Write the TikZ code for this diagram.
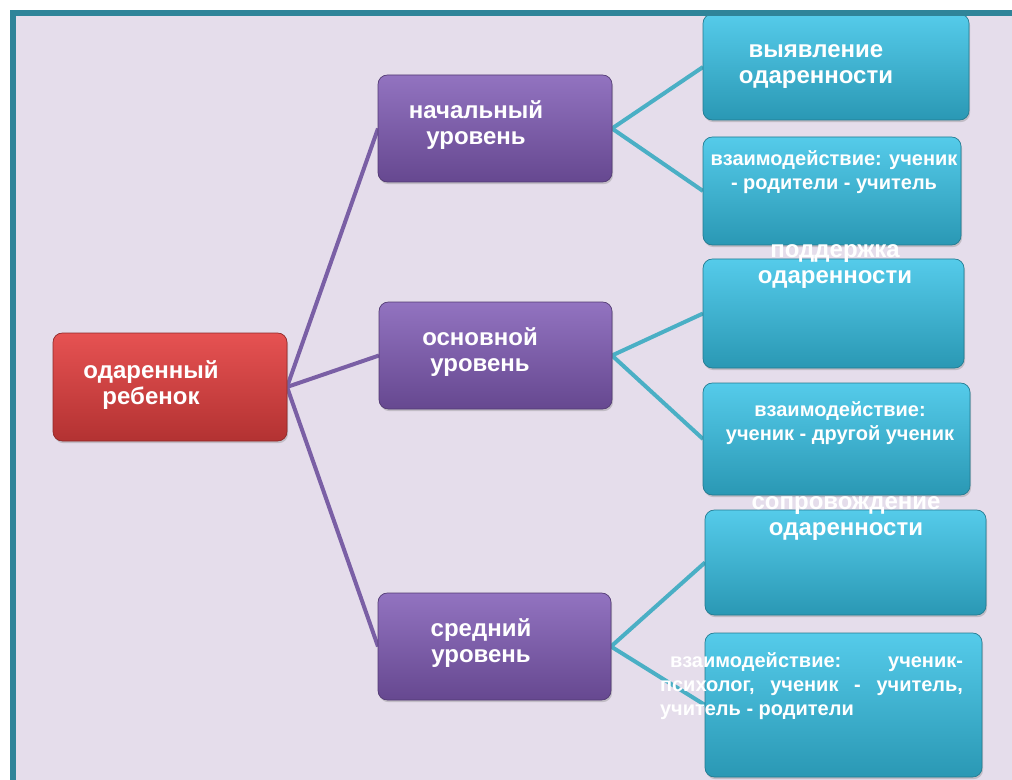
\documentclass[tikz,border=0pt]{standalone}
\usepackage{fontspec}
\setmainfont{Liberation Sans}
\usetikzlibrary{shadows}
\definecolor{bgc}{HTML}{E5DDEB}
\definecolor{framec}{HTML}{2F8499}
\definecolor{redtop}{HTML}{E65252}
\definecolor{redmid}{HTML}{D23E3E}
\definecolor{redbot}{HTML}{B33232}
\definecolor{purtop}{HTML}{9273C0}
\definecolor{purmid}{HTML}{7B5AA6}
\definecolor{purbot}{HTML}{664890}
\definecolor{teatop}{HTML}{55CBEA}
\definecolor{teamid}{HTML}{34B3D6}
\definecolor{teabot}{HTML}{2A98B4}
\definecolor{purline}{HTML}{7A5FA5}
\definecolor{tealine}{HTML}{4AAFC5}
\pgfdeclarelayer{bg}
\pgfdeclarelayer{lines}
\pgfsetlayers{bg,lines,main}
\begin{document}
\begin{tikzpicture}[x=0.75pt,y=-0.75pt,
  box/.style={rectangle, rounded corners=7pt, inner sep=0pt, outer sep=0pt,
    drop shadow={opacity=0.35, shadow xshift=0.8pt, shadow yshift=-1.6pt}},
  redbox/.style={box, draw=redbot!80!black, line width=0.5pt, top color=redtop, middle color=redmid, bottom color=redbot},
  purbox/.style={box, draw=purbot!80!black, line width=0.5pt, top color=purtop, middle color=purmid, bottom color=purbot},
  teabox/.style={box, draw=teabot!80!black, line width=0.5pt, top color=teatop, middle color=teamid, bottom color=teabot},
  txt/.style={text=white, font=\bfseries\fontsize{18}{19.5}\selectfont, align=center, inner sep=0pt},
  stxt/.style={txt, font=\bfseries\fontsize{15}{18}\selectfont},
  pline/.style={draw=purline, line width=3pt},
  tline/.style={draw=tealine, line width=3pt}]
\useasboundingbox (0,0) rectangle (1012,780);
\begin{pgfonlayer}{bg}
  \fill[white] (0,0) rectangle (1012,780);
  \fill[bgc] (16,16) rectangle (1012,780);
\end{pgfonlayer}

% boxes
\node[redbox, minimum width=175.5pt, minimum height=81pt] (root) at (170,387) {};
\node[purbox, minimum width=175.5pt, minimum height=80.25pt] (p1) at (495,128.5) {};
\node[purbox, minimum width=174.75pt, minimum height=80.25pt] (p2) at (495.5,355.5) {};
\node[purbox, minimum width=174.75pt, minimum height=80.25pt] (p3) at (494.5,646.5) {};
\node[teabox, minimum width=199.5pt, minimum height=79.5pt] (t1) at (836,67) {};
\node[teabox, minimum width=193.5pt, minimum height=81pt] (t2) at (832,191) {};
\node[teabox, minimum width=195.75pt, minimum height=81.75pt] (t3) at (833.5,313.5) {};
\node[teabox, minimum width=200.25pt, minimum height=84pt] (t4) at (836.5,439) {};
\node[teabox, minimum width=210.75pt, minimum height=78.75pt] (t5) at (845.5,562.5) {};
\node[teabox, minimum width=207.75pt, minimum height=108pt] (t6) at (843.5,705) {};

% connectors
\begin{pgfonlayer}{lines}
  \draw[pline] (root.east) -- (p1.west);
  \draw[pline] (root.east) -- (p2.west);
  \draw[pline] (root.east) -- (p3.west);
  \draw[tline] (p1.east) -- (t1.west);
  \draw[tline] (p1.east) -- (t2.west);
  \draw[tline] (p2.east) -- (t3.west);
  \draw[tline] (p2.east) -- (t4.west);
  \draw[tline] (p3.east) -- (t5.west);
  \draw[tline] (p3.east) -- (t6.west);
\end{pgfonlayer}

% texts
\node[txt] (roottxt) at (151,385.5) {одаренный\\ребенок};
\node[txt] (p1txt) at (476,125.5) {начальный\\уровень};
\node[txt] (p2txt) at (480,352) {основной\\уровень};
\node[txt] (p3txt) at (481,643) {средний\\уровень};
\node[txt] (t1txt) at (816,66.5) {выявление\\одаренности};
\node[stxt] (t2txt) at (834,172.5) {взаимодействие: ученик\\- родители - учитель};
\node[txt] (t3txt) at (835,267) {поддержка\\одаренности};
\node[stxt] (t4txt) at (840,423) {взаимодействие:\\ученик - другой ученик};
\node[txt] (t5txt) at (846,519) {сопровождение\\одаренности};
\node[stxt, align=left] (t6txt) at (811.5,686) {\hbox to 227.25pt{\hspace{7.5pt}взаимодействие:\hfill ученик-}\\\hbox to 227.25pt{психолог,\hfill ученик\hfill -\hfill учитель,}\\учитель - родители};

% frame
\fill[framec] (10,10) rectangle (1012,16);
\fill[framec] (10,10) rectangle (16,780);
\end{tikzpicture}
\end{document}
